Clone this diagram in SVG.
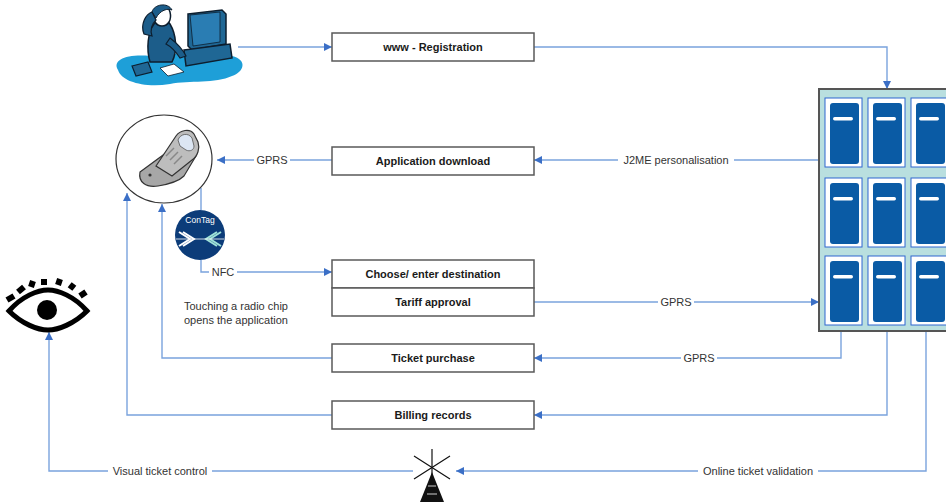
<svg xmlns="http://www.w3.org/2000/svg" width="946" height="502" viewBox="0 0 946 502">
  <style>
    .box { fill: #ffffff; stroke: #595959; stroke-width: 1.5; }
    .btxt { font-family: "Liberation Sans", Arial, sans-serif; font-size: 11px; font-weight: bold; fill: #1a1a1a; text-anchor: middle; }
    .lbl { font-family: "Liberation Sans", Arial, sans-serif; font-size: 11px; fill: #333333; text-anchor: middle; }
    .note { font-family: "Liberation Sans", Arial, sans-serif; font-size: 11px; fill: #333333; }
    .wire { fill: none; stroke: #7aa3dd; stroke-width: 1.4; }
    .arr { marker-end: url(#tip); }
    .unit { fill: #ffffff; stroke: #2f66d0; stroke-width: 1; }
    .core { fill: #0a5ba5; }
    .bar { fill: #ffffff; }
  </style>
  <defs>
    <marker id="tip" markerUnits="userSpaceOnUse" markerWidth="9" markerHeight="8" refX="8" refY="4" orient="auto">
      <path d="M0,0 L8,4 L0,8 Z" fill="#3b6fc6"/>
    </marker>
    <g id="server">
      <rect class="unit" x="0" y="0" width="37" height="69"/>
      <rect class="core" x="5" y="5" width="29" height="61" rx="3"/>
      <rect class="bar" x="8" y="19" width="20" height="3.5" rx="1.7"/>
    </g>
  </defs>

  <rect width="946" height="502" fill="#ffffff"/>

  <!-- connectors -->
  <g id="connectors">
    <path class="wire arr" d="M238,47 H332"/>
    <path class="wire arr" d="M534,47 H887 V89"/>
    <path class="wire arr" d="M819,160 H534"/>
    <path class="wire arr" d="M332,160 H217"/>
    <path class="wire" d="M201,188 V210"/>
    <path class="wire arr" d="M201,260 V272 H332"/>
    <path class="wire arr" d="M534,302 H819"/>
    <path class="wire arr" d="M841,331 V358 H534"/>
    <path class="wire arr" d="M332,358 H162 V204"/>
    <path class="wire arr" d="M887,331 V415 H534"/>
    <path class="wire arr" d="M332,415 H127 V193"/>
    <path class="wire arr" d="M926,331 V471 H456"/>
    <path class="wire arr" d="M413,471 H49 V332"/>

    <!-- connector labels -->
    <rect x="618" y="153" width="116" height="14" fill="#ffffff"/>
    <text class="lbl" x="676" y="164">J2ME personalisation</text>
    <rect x="254" y="153" width="36" height="14" fill="#ffffff"/>
    <text class="lbl" x="272" y="164">GPRS</text>
    <rect x="209" y="265" width="28" height="14" fill="#ffffff"/>
    <text class="lbl" x="223" y="276">NFC</text>
    <rect x="658" y="295" width="36" height="14" fill="#ffffff"/>
    <text class="lbl" x="676" y="306">GPRS</text>
    <rect x="681" y="351" width="36" height="14" fill="#ffffff"/>
    <text class="lbl" x="699" y="362">GPRS</text>
    <rect x="698" y="464" width="120" height="14" fill="#ffffff"/>
    <text class="lbl" x="758" y="475">Online ticket validation</text>
    <rect x="108" y="464" width="104" height="14" fill="#ffffff"/>
    <text class="lbl" x="160" y="475">Visual ticket control</text>
  </g>

  <!-- process boxes -->
  <g id="registration">
    <rect class="box" x="332" y="33" width="202" height="28"/>
    <text class="btxt" x="433" y="51">www - Registration</text>
  </g>
  <g id="app-download">
    <rect class="box" x="332" y="147" width="202" height="28"/>
    <text class="btxt" x="433" y="165">Application download</text>
  </g>
  <g id="destination">
    <rect class="box" x="332" y="260" width="202" height="28"/>
    <text class="btxt" x="433" y="278">Choose/ enter destination</text>
  </g>
  <g id="tariff">
    <rect class="box" x="332" y="288" width="202" height="28"/>
    <text class="btxt" x="433" y="306">Tariff approval</text>
  </g>
  <g id="ticket-purchase">
    <rect class="box" x="332" y="344" width="202" height="28"/>
    <text class="btxt" x="433" y="362">Ticket purchase</text>
  </g>
  <g id="billing">
    <rect class="box" x="332" y="401" width="202" height="28"/>
    <text class="btxt" x="433" y="419">Billing records</text>
  </g>

  <!-- server rack -->
  <g id="server-rack">
    <rect x="819" y="89" width="140" height="242" fill="#b9dfdf" stroke="#555555" stroke-width="2"/>
    <use href="#server" x="825" y="98"/>
    <use href="#server" x="868" y="98"/>
    <use href="#server" x="911" y="98"/>
    <use href="#server" x="825" y="178"/>
    <use href="#server" x="868" y="178"/>
    <use href="#server" x="911" y="178"/>
    <use href="#server" x="825" y="256"/>
    <use href="#server" x="868" y="256"/>
    <use href="#server" x="911" y="256"/>
  </g>

  <!-- user at a desk -->
  <g id="user-desk">
    <path d="M118,70 C112,60 126,54 150,56 C175,50 205,58 232,56 C248,60 244,72 232,76 C215,84 190,80 170,84 C145,88 122,82 118,70 Z" fill="#1e9fd8"/>
    <!-- monitor -->
    <path d="M188,14 L222,10 L226,14 L226,44 L192,50 L188,46 Z" fill="#1f6795" stroke="#0d1e2e" stroke-width="1.5"/>
    <path d="M190,15 L220,12 L220,42 L193,46 Z" fill="#2a7db3" stroke="#0d1e2e" stroke-width="0.8"/>
    <!-- desk unit -->
    <path d="M184,50 L230,44 L232,58 L186,66 Z" fill="#1f6795" stroke="#0d1e2e" stroke-width="1.5"/>
    <!-- person -->
    <path d="M150,62 C146,48 148,32 154,24 C158,18 166,18 170,24 C176,34 178,50 172,62 Z" fill="#1c5d8a" stroke="#0d1e2e" stroke-width="1.5"/>
    <path d="M154,12 C156,5 168,4 170,12 C172,20 168,26 162,26 C156,26 152,20 154,12 Z" fill="#ffffff" stroke="#0d1e2e" stroke-width="1.5"/>
    <path d="M152,12 C154,4 168,2 172,10 C168,8 160,10 156,18 Z" fill="#1c5d8a" stroke="#0d1e2e" stroke-width="1"/>
    <path d="M144,34 C140,24 146,14 152,12 L156,20 C152,24 150,30 152,36 Z" fill="#1c5d8a" stroke="#0d1e2e" stroke-width="1.2"/>
    <path d="M170,38 C178,44 184,52 186,56 L180,58 C176,52 170,46 166,44 Z" fill="#1c5d8a" stroke="#0d1e2e" stroke-width="1.2"/>
    <!-- phone on the desk and paper -->
    <path d="M132,66 L148,62 L152,72 L136,76 Z" fill="#1f6795" stroke="#0d1e2e" stroke-width="1.2"/>
    <path d="M160,68 L174,64 L184,72 L168,76 Z" fill="#ffffff" stroke="#0d1e2e" stroke-width="0.8"/>
  </g>

  <!-- mobile phone -->
  <g id="mobile-phone">
    <ellipse cx="164" cy="159" rx="48" ry="44" fill="#ffffff" stroke="#333333" stroke-width="1.2"/>
    <path d="M140,172 L170,150 L196,156 L184,176 C180,180 170,184 158,186 C146,188 138,182 140,172 Z" fill="#a7a7a7" stroke="#333333" stroke-width="1.2"/>
    <path d="M156,166 L176,136 C180,130 190,128 194,134 L198,142 C200,148 198,156 192,160 L172,176 Z" fill="#bdbdbd" stroke="#333333" stroke-width="1.2"/>
    <path d="M178,140 C180,134 188,132 192,138 L194,146 C194,150 190,152 186,150 L180,146 Z" fill="#dce6f3" stroke="#555555" stroke-width="0.8"/>
    <path d="M166,156 L174,148 M170,160 L178,152 M174,164 L182,156" stroke="#888888" stroke-width="1.5"/>
    <circle cx="150" cy="175" r="1.6" fill="#333333"/>
  </g>

  <!-- NFC tag -->
  <g id="contag">
    <circle cx="200" cy="235" r="25" fill="#0c3c79"/>
    <text x="200" y="223" font-family="'Liberation Sans', Arial, sans-serif" font-size="8.5" fill="#ffffff" text-anchor="middle">ConTag</text>
    <path d="M179,232 L190,239 L179,246 M183,232 L194,239 L183,246" fill="none" stroke="#ffffff" stroke-width="2"/>
    <path d="M221,232 L210,239 L221,246 M217,232 L206,239 L217,246" fill="none" stroke="#9fe3d8" stroke-width="2"/>
    <path d="M176,239 H224" stroke="#ffffff" stroke-width="0.8"/>
  </g>
  <g id="nfc-note">
    <text class="note" x="184" y="310">Touching a radio chip</text>
    <text class="note" x="184" y="324">opens the application</text>
  </g>

  <!-- eye -->
  <g id="eye">
    <path d="M9,311 C22,296 38,290 48,290 C58,290 74,296 87,311 C74,324 58,330 48,330 C38,330 22,324 9,311 Z" fill="#ffffff" stroke="#000000" stroke-width="5"/>
    <circle cx="47" cy="310" r="10" fill="#000000"/>
    <g stroke="#000000" stroke-width="6" stroke-linecap="butt">
      <path d="M7,300 L14,296"/>
      <path d="M18,292 L24,287"/>
      <path d="M31,287 L33,281"/>
      <path d="M44,285 L44,279"/>
      <path d="M58,285 L60,279"/>
      <path d="M70,289 L74,284"/>
      <path d="M80,296 L86,292"/>
    </g>
  </g>

  <!-- radio tower -->
  <g id="radio-tower">
    <g stroke="#111111" stroke-width="1.2">
      <path d="M432,449 V486"/>
      <path d="M414,456 L450,479 M450,456 L414,479"/>
    </g>
    <path d="M432,472 L426,502 L438,502 Z M432,472 L420,502 L426,502 Z M432,472 L444,502 L438,502 Z" fill="#111111"/>
    <path d="M428,486 L436,486 M427,494 L437,494" stroke="#ffffff" stroke-width="0.8"/>
  </g>
</svg>
